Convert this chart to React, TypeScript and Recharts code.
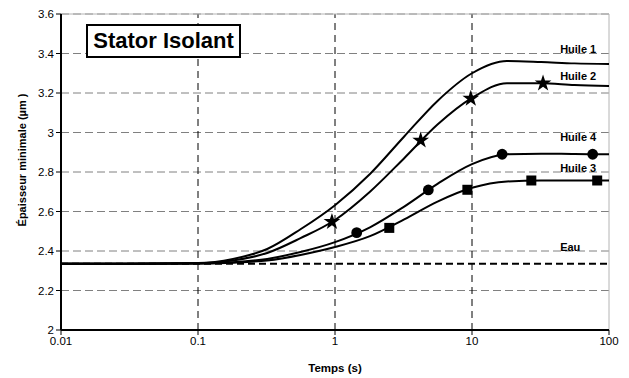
import React from "react"
import {
  ComposedChart, Line, Scatter, XAxis, YAxis, CartesianGrid,
  ReferenceLine, ReferenceDot,
} from "recharts"

// temps (s), a quarter decade apart, along each smoothed curve
const temps = [0.01, 0.03, 0.1, 0.18, 0.32, 0.56, 1, 1.8, 3.2, 5.6, 10, 18, 32, 56, 100]

const huile1 = [2.335, 2.335, 2.339, 2.36, 2.41, 2.51, 2.632, 2.79, 2.98, 3.16, 3.3, 3.362, 3.357, 3.35, 3.347]
const huile2 = [2.335, 2.335, 2.338, 2.352, 2.39, 2.465, 2.557, 2.7, 2.87, 3.04, 3.175, 3.25, 3.25, 3.24, 3.235]
const huile4 = [2.335, 2.335, 2.337, 2.343, 2.36, 2.395, 2.445, 2.52, 2.625, 2.74, 2.84, 2.89, 2.893, 2.891, 2.89]
const huile3 = [2.335, 2.335, 2.337, 2.341, 2.352, 2.38, 2.42, 2.475, 2.56, 2.65, 2.72, 2.752, 2.757, 2.757, 2.757]

// markers
const etoilesX = [0.95, 4.22, 9.8, 33]
const etoilesY = [2.548, 2.96, 3.172, 3.249]
const cerclesX = [1.44, 4.8, 16.6, 76]
const cerclesY = [2.493, 2.709, 2.89, 2.89]
const carresX = [2.49, 9.25, 27.1, 82]
const carresY = [2.517, 2.71, 2.757, 2.757]

// water reference
const eauX = [0.01, 100]
const eauY = [2.335, 2.335]

const xTicks = [0.01, 0.1, 1, 10, 100]
const yTicks = [2, 2.2, 2.4, 2.6, 2.8, 3, 3.2, 3.4, 3.6]

const etiquettes = ["Huile 1", "Huile 2", "Huile 4", "Huile 3", "Eau"]
const etiquettesY = [3.423, 3.286, 2.975, 2.82, 2.42]
const etiquetteX = 44

const FONT = "'Liberation Sans', Arial, sans-serif"

const pts = (xs: number[], ys: number[]) => xs.map((x, i) => ({ x, y: ys[i] }))

const courbe1 = pts(temps, huile1)
const courbe2 = pts(temps, huile2)
const courbe4 = pts(temps, huile4)
const courbe3 = pts(temps, huile3)
const mk2 = pts(etoilesX, etoilesY)
const mk4 = pts(cerclesX, cerclesY)
const mk3 = pts(carresX, carresY)
const eau = pts(eauX, eauY)

const Star = (p: any) => {
  const R = 8.8, r = 3.4
  const s = []
  for (let i = 0; i < 10; i++) {
    const a = -Math.PI / 2 + (i * Math.PI) / 5
    const rad = i % 2 === 0 ? R : r
    s.push(`${p.cx + rad * Math.cos(a)},${p.cy + rad * Math.sin(a)}`)
  }
  return <polygon points={s.join(" ")} fill="#000" />
}
const Dot = (p: any) => <circle cx={p.cx} cy={p.cy} r={5.4} fill="#000" />
const Square = (p: any) => <rect x={p.cx - 5} y={p.cy - 5} width={10} height={10} fill="#000" />

const tag = (txt: string) => (p: any) => (
  <text x={p.cx} y={p.cy} dy="0.36em" fontFamily={FONT} fontSize={11} fontWeight="bold" fill="#000">
    {txt}
  </text>
)

export default function App() {
  return (
    <div style={{ position: "absolute", left: 0, top: 0, width: 629, height: 378, background: "#fff" }}>
      <ComposedChart width={629} height={378} margin={{ top: 14, right: 20, bottom: 0, left: 0 }}
        style={{ fontFamily: FONT }}>

        <CartesianGrid vertical={false} stroke="#808080" strokeDasharray="8 4" />

        {xTicks.slice(1, 4).map((v) => (
          <ReferenceLine key={v} x={v} stroke="#000" strokeDasharray="7 5" />
        ))}
        <ReferenceLine y={3.6} stroke="#b4b4b4" />
        <ReferenceLine x={100} stroke="#b4b4b4" />

        <XAxis type="number" dataKey="x" scale="log" domain={[0.01, 100]} ticks={xTicks}
          allowDataOverflow height={48} tickSize={5}
          axisLine={{ stroke: "#000", strokeWidth: 2 }} tickLine={{ stroke: "#000" }}
          tick={{ fill: "#000", fontSize: 11.5 }}
          tickFormatter={(v: number) => String(v)}
          label={{
            content: (p: any) => (
              <text x={p.viewBox.x + p.viewBox.width / 2} y={372} textAnchor="middle"
                fontFamily={FONT} fontSize={11.5} fontWeight="bold" fill="#000">Temps (s)</text>
            ),
          }} />

        <YAxis type="number" dataKey="y" domain={[2, 3.6]} ticks={yTicks} width={61}
          allowDataOverflow tickSize={5}
          axisLine={{ stroke: "#000", strokeWidth: 2 }} tickLine={{ stroke: "#000" }}
          tick={{ fill: "#000", fontSize: 11.5 }}
          label={{
            content: () => (
              <text x={26} y={160} transform="rotate(-90, 26, 160)" textAnchor="middle"
                fontFamily={FONT} fontSize={11} fontWeight="bold" fill="#000">Épaisseur minimale (µm )</text>
            ),
          }} />

        <Line data={eau} dataKey="y" stroke="#000" strokeWidth={2} strokeDasharray="7 4"
          dot={false} isAnimationActive={false} />
        <Line data={courbe1} dataKey="y" type="monotone" stroke="#000" strokeWidth={2} dot={false} isAnimationActive={false} />
        <Line data={courbe2} dataKey="y" type="monotone" stroke="#000" strokeWidth={2} dot={false} isAnimationActive={false} />
        <Line data={courbe4} dataKey="y" type="monotone" stroke="#000" strokeWidth={2} dot={false} isAnimationActive={false} />
        <Line data={courbe3} dataKey="y" type="monotone" stroke="#000" strokeWidth={2} dot={false} isAnimationActive={false} />

        <Scatter data={mk2} dataKey="y" shape={Star} isAnimationActive={false} />
        <Scatter data={mk4} dataKey="y" shape={Dot} isAnimationActive={false} />
        <Scatter data={mk3} dataKey="y" shape={Square} isAnimationActive={false} />

        {etiquettes.map((t, i) => (
          <ReferenceDot key={t} x={etiquetteX} y={etiquettesY[i]} r={0} shape={tag(t)} />
        ))}
      </ComposedChart>

      <div style={{
        position: "absolute", left: 86, top: 24, width: 155, height: 34, boxSizing: "border-box",
        border: "2px solid #000", background: "#fff", fontFamily: FONT, fontWeight: "bold",
        fontSize: 22, lineHeight: "30px", textAlign: "center",
      }}>
        Stator Isolant
      </div>
    </div>
  )
}
